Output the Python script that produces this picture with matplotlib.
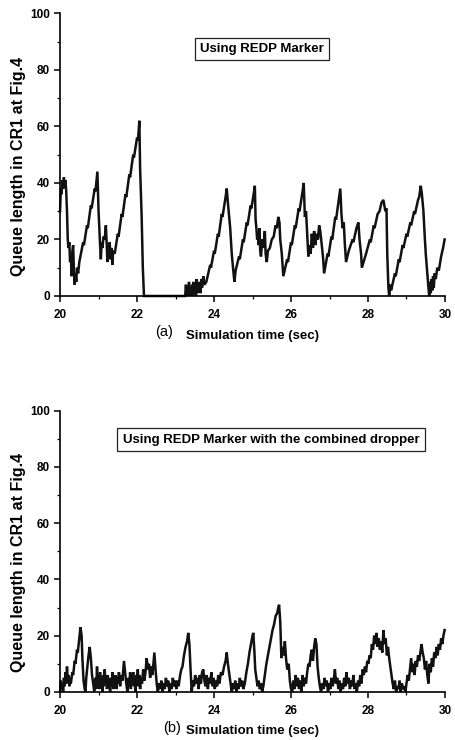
import matplotlib
matplotlib.use("Agg")
import matplotlib.pyplot as plt
from matplotlib.ticker import MultipleLocator

plt.rcParams['font.family'] = ['Liberation Sans', 'DejaVu Sans']

# queue length: (time, queue)
pts_a = [(20.00, 30), (20.02, 38), (20.04, 36), (20.06, 41), (20.08, 38), (20.10, 42),
         (20.12, 39), (20.14, 41), (20.16, 37), (20.18, 30), (20.20, 20), (20.22, 17),
         (20.24, 19), (20.26, 12), (20.28, 14), (20.30, 7), (20.32, 16), (20.34, 18),
         (20.36, 9), (20.38, 4), (20.40, 8), (20.42, 5), (20.44, 10), (20.47, 8),
         (20.50, 12), (20.60, 19), (20.62, 18), (20.70, 25), (20.72, 24), (20.80, 32),
         (20.82, 31), (20.90, 38), (20.92, 37), (20.97, 44), (21.00, 30), (21.04, 18),
         (21.06, 13), (21.08, 19), (21.10, 17), (21.13, 21), (21.16, 20), (21.19, 25),
         (21.21, 19), (21.23, 12), (21.25, 18), (21.27, 14), (21.29, 19), (21.31, 13),
         (21.33, 17), (21.36, 11), (21.38, 16), (21.42, 15), (21.50, 22), (21.52, 21),
         (21.60, 29), (21.62, 28), (21.70, 36), (21.72, 35), (21.80, 43), (21.82, 42),
         (21.90, 50), (21.92, 49), (22.00, 56), (22.02, 55), (22.04, 58), (22.06, 62),
         (22.08, 45), (22.12, 28), (22.15, 10), (22.18, 0), (23.25, 0),
         (23.27, 4), (23.29, 0), (23.31, 3), (23.33, 1), (23.35, 5), (23.37, 0),
         (23.39, 3), (23.41, 1), (23.43, 4), (23.45, 0), (23.47, 5), (23.49, 2),
         (23.51, 4), (23.53, 0), (23.55, 6), (23.57, 1), (23.59, 4), (23.61, 2),
         (23.63, 5), (23.65, 1), (23.67, 6), (23.69, 3), (23.72, 7), (23.75, 4),
         (23.80, 5), (23.90, 11), (23.92, 10), (24.00, 16), (24.02, 15), (24.10, 22),
         (24.12, 21), (24.20, 29), (24.22, 28), (24.30, 35), (24.33, 38), (24.36, 33),
         (24.40, 27), (24.42, 24), (24.46, 15), (24.50, 9), (24.53, 5), (24.56, 9),
         (24.65, 14), (24.67, 13), (24.75, 20), (24.77, 19), (24.85, 26), (24.87, 25),
         (24.95, 32), (24.97, 31), (25.04, 37), (25.06, 39), (25.08, 27), (25.10, 24),
         (25.12, 20), (25.14, 23), (25.16, 18), (25.18, 24), (25.20, 16), (25.22, 14),
         (25.25, 20), (25.28, 17), (25.32, 23), (25.34, 15), (25.37, 12), (25.40, 16),
         (25.45, 17), (25.50, 20), (25.55, 21), (25.60, 25), (25.63, 24), (25.67, 28),
         (25.70, 26), (25.72, 20), (25.76, 15), (25.80, 7), (25.90, 13), (25.92, 12),
         (26.00, 19), (26.02, 18), (26.10, 25), (26.12, 24), (26.20, 31), (26.22, 30),
         (26.30, 37), (26.33, 40), (26.36, 28), (26.39, 30), (26.42, 22), (26.45, 14),
         (26.48, 18), (26.51, 15), (26.54, 22), (26.57, 17), (26.60, 23), (26.63, 18),
         (26.66, 22), (26.70, 20), (26.73, 25), (26.76, 23), (26.79, 19), (26.83, 14),
         (26.86, 8), (26.95, 15), (26.97, 14), (27.05, 21), (27.07, 20), (27.15, 28),
         (27.17, 27), (27.25, 35), (27.28, 38), (27.31, 29), (27.34, 24), (27.37, 26),
         (27.40, 18), (27.43, 12), (27.50, 16), (27.60, 20), (27.62, 19), (27.70, 24),
         (27.75, 26), (27.78, 20), (27.82, 15), (27.84, 10), (27.95, 15), (28.05, 20),
         (28.07, 19), (28.15, 25), (28.17, 24), (28.25, 29), (28.30, 30), (28.35, 33),
         (28.40, 34), (28.45, 30), (28.48, 31), (28.50, 15), (28.53, 3), (28.55, 0),
         (28.58, 4), (28.60, 2), (28.70, 8), (28.72, 7), (28.80, 13), (28.82, 12),
         (28.90, 18), (28.92, 17), (29.00, 22), (29.02, 21), (29.10, 26), (29.12, 25),
         (29.20, 30), (29.22, 29), (29.30, 34), (29.33, 35), (29.37, 39), (29.40, 36),
         (29.44, 30), (29.47, 22), (29.50, 15), (29.54, 8), (29.57, 3), (29.59, 0),
         (29.61, 5), (29.63, 1), (29.65, 6), (29.67, 2), (29.69, 7), (29.71, 3),
         (29.73, 8), (29.76, 6), (29.80, 10), (29.84, 9), (29.90, 14), (29.95, 17),
         (29.99, 20)]

# queue length: (time, queue)
pts_b = [(20.00, 0), (20.02, 4), (20.04, 1), (20.06, 3), (20.08, 0), (20.10, 5),
         (20.12, 2), (20.14, 7), (20.16, 3), (20.18, 9), (20.20, 4), (20.22, 6),
         (20.24, 2), (20.26, 5), (20.28, 3), (20.32, 7), (20.34, 6), (20.38, 11),
         (20.40, 10), (20.44, 15), (20.46, 14), (20.50, 19), (20.53, 23), (20.56, 20),
         (20.58, 12), (20.61, 4), (20.64, 1), (20.66, 0), (20.68, 5), (20.71, 9),
         (20.74, 13), (20.77, 16), (20.80, 12), (20.83, 6), (20.86, 3), (20.89, 0),
         (20.92, 5), (20.94, 1), (20.96, 9), (20.98, 2), (21.00, 6), (21.02, 1),
         (21.04, 7), (21.06, 2), (21.08, 5), (21.10, 0), (21.12, 6), (21.14, 2),
         (21.16, 8), (21.18, 3), (21.20, 5), (21.22, 1), (21.24, 6), (21.26, 2),
         (21.28, 4), (21.30, 0), (21.32, 5), (21.34, 2), (21.36, 7), (21.38, 1),
         (21.40, 4), (21.42, 2), (21.44, 6), (21.46, 1), (21.48, 5), (21.50, 3),
         (21.53, 7), (21.56, 2), (21.59, 6), (21.62, 4), (21.66, 11), (21.69, 7),
         (21.72, 3), (21.75, 0), (21.78, 5), (21.80, 2), (21.82, 7), (21.84, 1),
         (21.86, 6), (21.88, 3), (21.90, 7), (21.92, 2), (21.94, 5), (21.96, 0),
         (21.98, 6), (22.00, 3), (22.02, 8), (22.04, 2), (22.06, 6), (22.08, 1),
         (22.10, 5), (22.13, 3), (22.16, 8), (22.19, 4), (22.22, 7), (22.25, 12),
         (22.28, 8), (22.31, 10), (22.34, 5), (22.37, 9), (22.40, 6), (22.43, 11),
         (22.45, 14), (22.48, 8), (22.51, 3), (22.54, 0), (22.57, 3), (22.60, 1),
         (22.63, 4), (22.66, 0), (22.69, 3), (22.72, 1), (22.75, 5), (22.78, 2),
         (22.81, 4), (22.84, 0), (22.87, 3), (22.90, 1), (22.93, 5), (22.96, 2),
         (22.99, 4), (23.02, 1), (23.05, 4), (23.08, 2), (23.12, 6), (23.15, 8),
         (23.18, 9), (23.22, 13), (23.26, 16), (23.30, 18), (23.33, 21), (23.36, 17),
         (23.39, 8), (23.42, 0), (23.45, 4), (23.48, 2), (23.51, 6), (23.54, 3),
         (23.57, 5), (23.60, 1), (23.63, 6), (23.66, 3), (23.69, 7), (23.72, 8),
         (23.75, 4), (23.78, 2), (23.81, 6), (23.84, 1), (23.87, 5), (23.90, 3),
         (23.93, 7), (23.96, 2), (23.99, 5), (24.02, 1), (24.05, 4), (24.08, 2),
         (24.11, 6), (24.14, 3), (24.18, 7), (24.22, 6), (24.26, 9), (24.30, 11),
         (24.33, 14), (24.36, 10), (24.40, 6), (24.43, 3), (24.46, 0), (24.49, 3),
         (24.52, 1), (24.55, 4), (24.58, 0), (24.61, 3), (24.64, 1), (24.67, 5),
         (24.70, 2), (24.73, 4), (24.76, 1), (24.80, 3), (24.84, 7), (24.88, 10),
         (24.92, 14), (24.96, 17), (25.00, 20), (25.02, 21), (25.05, 14), (25.07, 8),
         (25.10, 5), (25.13, 2), (25.16, 4), (25.19, 1), (25.22, 3), (25.25, 0),
         (25.28, 2), (25.32, 6), (25.36, 10), (25.40, 13), (25.44, 16), (25.48, 19),
         (25.52, 22), (25.56, 24), (25.60, 27), (25.64, 28), (25.67, 30), (25.69, 31),
         (25.72, 25), (25.75, 12), (25.78, 16), (25.81, 13), (25.84, 18), (25.87, 12),
         (25.90, 8), (25.94, 10), (25.97, 4), (26.00, 1), (26.03, 0), (26.06, 4),
         (26.09, 1), (26.12, 6), (26.15, 2), (26.18, 5), (26.21, 1), (26.24, 4),
         (26.27, 0), (26.30, 6), (26.33, 2), (26.36, 5), (26.39, 3), (26.42, 7),
         (26.45, 10), (26.48, 9), (26.51, 13), (26.54, 15), (26.57, 11), (26.60, 16),
         (26.63, 19), (26.66, 17), (26.69, 9), (26.72, 5), (26.75, 2), (26.78, 0),
         (26.81, 3), (26.84, 1), (26.87, 5), (26.90, 2), (26.93, 4), (26.96, 0),
         (26.99, 3), (27.02, 1), (27.05, 5), (27.08, 2), (27.11, 4), (27.14, 8),
         (27.17, 3), (27.20, 5), (27.23, 1), (27.26, 4), (27.29, 0), (27.32, 3),
         (27.35, 1), (27.38, 5), (27.41, 2), (27.44, 7), (27.47, 3), (27.50, 5),
         (27.53, 1), (27.56, 4), (27.59, 2), (27.62, 6), (27.65, 1), (27.68, 3),
         (27.71, 0), (27.74, 4), (27.77, 2), (27.80, 6), (27.83, 3), (27.86, 8),
         (27.89, 6), (27.92, 9), (27.95, 7), (27.98, 11), (28.01, 10), (28.04, 13),
         (28.07, 12), (28.10, 17), (28.13, 15), (28.16, 20), (28.19, 17), (28.22, 21),
         (28.25, 16), (28.28, 19), (28.31, 15), (28.34, 18), (28.37, 14), (28.40, 22),
         (28.43, 17), (28.46, 19), (28.49, 13), (28.52, 16), (28.55, 12), (28.58, 9),
         (28.61, 6), (28.64, 3), (28.67, 1), (28.70, 4), (28.73, 0), (28.76, 2),
         (28.79, 1), (28.82, 4), (28.85, 0), (28.88, 3), (28.91, 1), (28.94, 2),
         (28.97, 0), (29.00, 3), (29.03, 6), (29.06, 4), (29.09, 8), (29.12, 12),
         (29.15, 7), (29.18, 10), (29.21, 6), (29.24, 11), (29.27, 9), (29.30, 13),
         (29.33, 11), (29.36, 14), (29.39, 17), (29.42, 14), (29.45, 12), (29.48, 8),
         (29.51, 11), (29.54, 6), (29.57, 3), (29.60, 10), (29.63, 7), (29.66, 12),
         (29.69, 9), (29.72, 14), (29.75, 12), (29.78, 16), (29.81, 13), (29.84, 17),
         (29.87, 15), (29.90, 19), (29.93, 17), (29.96, 20), (29.99, 22)]

titles = ["Using REDP Marker", "Using REDP Marker with the combined dropper"]
tags = ["(a)", "(b)"]
xlab = "Simulation time (sec)"
ylab = "Queue length in CR1 at Fig.4"

fig = plt.figure(figsize=(4.55, 7.40), dpi=100)
ax_a = fig.add_axes([0.132, 0.600, 0.846, 0.382])
ax_b = fig.add_axes([0.132, 0.065, 0.846, 0.380])

# box centre (axes fraction) and tag x
boxpos = [(0.525, 0.873), (0.548, 0.897)]
tag_x = [0.27, 0.29]

for ax, pts, ttl, tag, bp, tx in zip([ax_a, ax_b], [pts_a, pts_b], titles, tags,
                                     boxpos, tag_x):
    t, q = zip(*pts)
    ax.plot(t, q, color='#111111', lw=1.8, solid_joinstyle='miter', clip_on=False)
    ax.set_xlim(20, 30)
    ax.set_ylim(0, 100)
    ax.xaxis.set_major_locator(MultipleLocator(2))
    ax.xaxis.set_minor_locator(MultipleLocator(1))
    ax.yaxis.set_major_locator(MultipleLocator(20))
    ax.yaxis.set_minor_locator(MultipleLocator(10))
    for s in ['top', 'right']:
        ax.spines[s].set_visible(False)
    for s in ['left', 'bottom']:
        ax.spines[s].set_linewidth(1.2)
    ax.tick_params(which='major', direction='out', length=4.5, width=1.1,
                   labelsize=8.5, pad=3)
    ax.tick_params(axis='x', which='major', pad=5)
    ax.tick_params(which='minor', direction='out', length=2.5, width=0.9)
    for lb in ax.get_xticklabels() + ax.get_yticklabels():
        lb.set_fontweight('bold')
    ax.set_ylabel(ylab, fontsize=11.5, fontweight='bold', labelpad=3)
    ax.yaxis.label.set_y(0.46)
    ax.set_xlabel(xlab, fontsize=9.5, fontweight='bold', labelpad=6)
    ax.text(tx, -0.128, tag, transform=ax.transAxes, fontsize=10.5,
            ha='center', va='center')
    ax.text(bp[0], bp[1], ttl, transform=ax.transAxes, fontsize=9.5,
            fontweight='bold', ha='center', va='center',
            bbox=dict(boxstyle='square,pad=0.4', fc='white', ec='#222222', lw=0.9))

fig.savefig("out.png", dpi=100)
